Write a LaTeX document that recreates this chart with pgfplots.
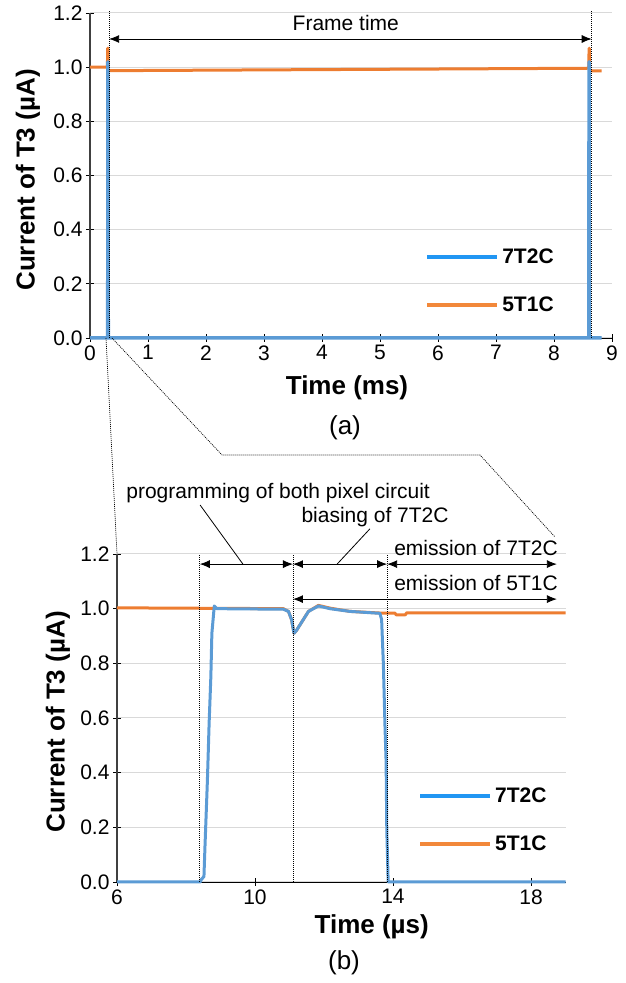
\documentclass[border=0pt]{standalone}
\usepackage{fontspec}
\setmainfont{Liberation Sans}
\usepackage{pgfplots}
\pgfplotsset{compat=1.18}
\usetikzlibrary{arrows.meta}
\definecolor{dblue}{HTML}{5B9BD5}
\definecolor{lblue}{HTML}{2196F3}
\definecolor{dorange}{HTML}{ED7D31}
\definecolor{lorange}{HTML}{F2883A}
\newcommand{\fa}{\fontsize{21}{25}\selectfont}
\newcommand{\fb}{\fontsize{26}{30}\selectfont\bfseries}
\tikzset{
  dl/.style={line width=0.7pt, dash pattern=on 1pt off 1pt},
  ar/.style={{Latex[length=10pt,width=8pt]}-{Latex[length=10pt,width=8pt]}, line width=0.8pt},
}
\pgfplotsset{
  mystyle/.style={
    scale only axis,
    axis x line*=bottom, axis y line*=left,
    axis line style={-},
    x axis line style={black, line width=0.8pt},
    y axis line style={black!75, line width=1.2pt},
    ymin=0, ymax=1.2,
    ytick={0,0.2,0.4,0.6,0.8,1.0,1.2},
    yticklabel style={/pgf/number format/fixed, /pgf/number format/fixed zerofill, /pgf/number format/precision=1},
    /pgf/number format/assume math mode=true,
    ymajorgrids, grid style={black!15, line width=1pt},
    tick style={black, line width=0.8pt},
    major tick length=8pt, tick align=center,
    ticklabel style={font=\fa},
    clip=false,
    legend cell align=left,
    legend image code/.code={\draw[##1] (0pt,0pt) -- (70pt,0pt);},
    legend style={draw=none, fill=none, inner sep=0pt, row sep=26pt,
      nodes={font=\fa\bfseries, inner sep=3pt},
      /tikz/every even column/.append style={column sep=4pt}},
  },
}
\begin{document}
\begin{tikzpicture}[x=1pt,y=1pt]
\useasboundingbox (0,0) rectangle (626,983);
% ---------- (a) ----------
\begin{axis}[mystyle,
  at={(90pt,645pt)}, anchor=south west,
  width=522pt, height=325pt,
  xmin=0, xmax=9, xtick={0,1,...,9},
  legend style={at={(0.642,0.285)}, anchor=north west},
]
\addlegendimage{lblue, line width=4pt}
\addlegendentry{7T2C}
\addlegendimage{lorange, line width=4pt}
\addlegendentry{5T1C}
\addplot[forget plot, dorange, line width=3pt, line join=round] coordinates {
(0,1.0) (0.30,1.0) (0.305,1.07) (0.31,1.07) (0.315,0.987) (8.60,0.996) (8.605,1.07) (8.61,1.07) (8.615,0.986) (8.82,0.986)};
\addplot[forget plot, dblue, line width=3.5pt, line join=round] coordinates {
(0,0) (0.305,0) (0.31,1.02) (0.315,0) (8.60,0) (8.605,1.02) (8.61,0) (8.82,0)};
\draw[dl] (axis cs:0.33,0) -- (axis cs:0.33,1.21);
\draw[dl] (axis cs:8.65,0) -- (axis cs:8.65,1.21);
\draw[ar] (axis cs:0.33,1.104) -- (axis cs:8.65,1.104);
\node[font=\fa] at (axis cs:4.41,1.163) {Frame time};
\end{axis}
% ---------- (b) ----------
\begin{axis}[mystyle,
  at={(117pt,101pt)}, anchor=south west,
  width=448.5pt, height=328pt,
  xmin=6, xmax=19, xtick={6,10,14,18},
  legend style={at={(0.671,0.298)}, anchor=north west},
]
\addlegendimage{lblue, line width=4pt}
\addlegendentry{7T2C}
\addlegendimage{lorange, line width=4pt}
\addlegendentry{5T1C}
\addplot[forget plot, dorange, line width=3pt, line join=round] coordinates {
(6,1.003) (10.82,1.0) (10.97,0.99) (11.06,0.96) (11.13,0.91) (11.2,0.92) (11.35,0.95) (11.55,0.99) (11.84,1.012) (12.17,1.002) (12.75,0.99) (13.62,0.984) (14.05,0.984) (14.1,0.977) (14.35,0.977) (14.4,0.985) (19,0.985)};
\addplot[forget plot, dblue, line width=3pt, line join=round] coordinates {
(6,0) (8.41,0.0) (8.45,0.01) (8.52,0.02) (8.55,0.13) (8.62,0.37) (8.67,0.58) (8.72,0.75) (8.75,0.91) (8.82,1.01) (8.89,1.0) (10.82,0.998) (10.97,0.99) (11.06,0.96) (11.13,0.91) (11.2,0.92) (11.35,0.95) (11.55,0.99) (11.84,1.01) (12.17,1.0) (12.75,0.99) (13.62,0.983) (13.67,0.96) (13.72,0.8) (13.77,0.56) (13.8,0.44) (13.82,0.19) (13.86,0.0) (19,0)};
\draw[dl] (axis cs:8.4,0) -- (axis cs:8.4,1.2);
\draw[dl] (axis cs:11.1,0) -- (axis cs:11.1,1.2);
\draw[dl] (axis cs:13.83,0) -- (axis cs:13.83,1.2);
\draw[ar] (axis cs:8.4,1.163) -- (axis cs:11.1,1.163);
\draw[ar] (axis cs:11.1,1.163) -- (axis cs:13.83,1.163);
\draw[ar] (axis cs:13.83,1.163) -- (axis cs:18.75,1.163);
\draw[ar] (axis cs:11.1,1.035) -- (axis cs:18.75,1.035);
\draw[line width=0.8pt] (axis cs:8.41,1.379) -- (axis cs:9.65,1.163);
\draw[line width=0.8pt] (axis cs:13.33,1.292) -- (axis cs:12.38,1.163);
\node[font=\fa] at (axis cs:10.67,1.423) {programming of both pixel circuit};
\node[font=\fa] at (axis cs:13.48,1.336) {biasing of 7T2C};
\node[font=\fa, anchor=east, inner sep=0pt] at (axis cs:18.78,1.222) {emission of 7T2C};
\node[font=\fa, anchor=east, inner sep=0pt] at (axis cs:18.78,1.094) {emission of 5T1C};
\end{axis}
% ---------- labels & zoom lines ----------
\node[font=\fb, rotate=90] at (28,803) {Current of T3 (µA)};
\node[font=\fb, rotate=90] at (58,261) {Current of T3 (µA)};
\node[font=\fb] at (347,595) {Time (ms)};
\node[font=\fontsize{26}{30}\selectfont] at (345,555) {(a)};
\node[font=\fb, anchor=east, inner sep=0pt] at (429,56) {Time (µs)};
\node[font=\fontsize{26}{30}\selectfont] at (344,20) {(b)};
\draw[dl] (106,645) -- (117,429);
\draw[dl] (112,645) -- (222,528) -- (480,528) -- (555,446);
\end{tikzpicture}
\end{document}
